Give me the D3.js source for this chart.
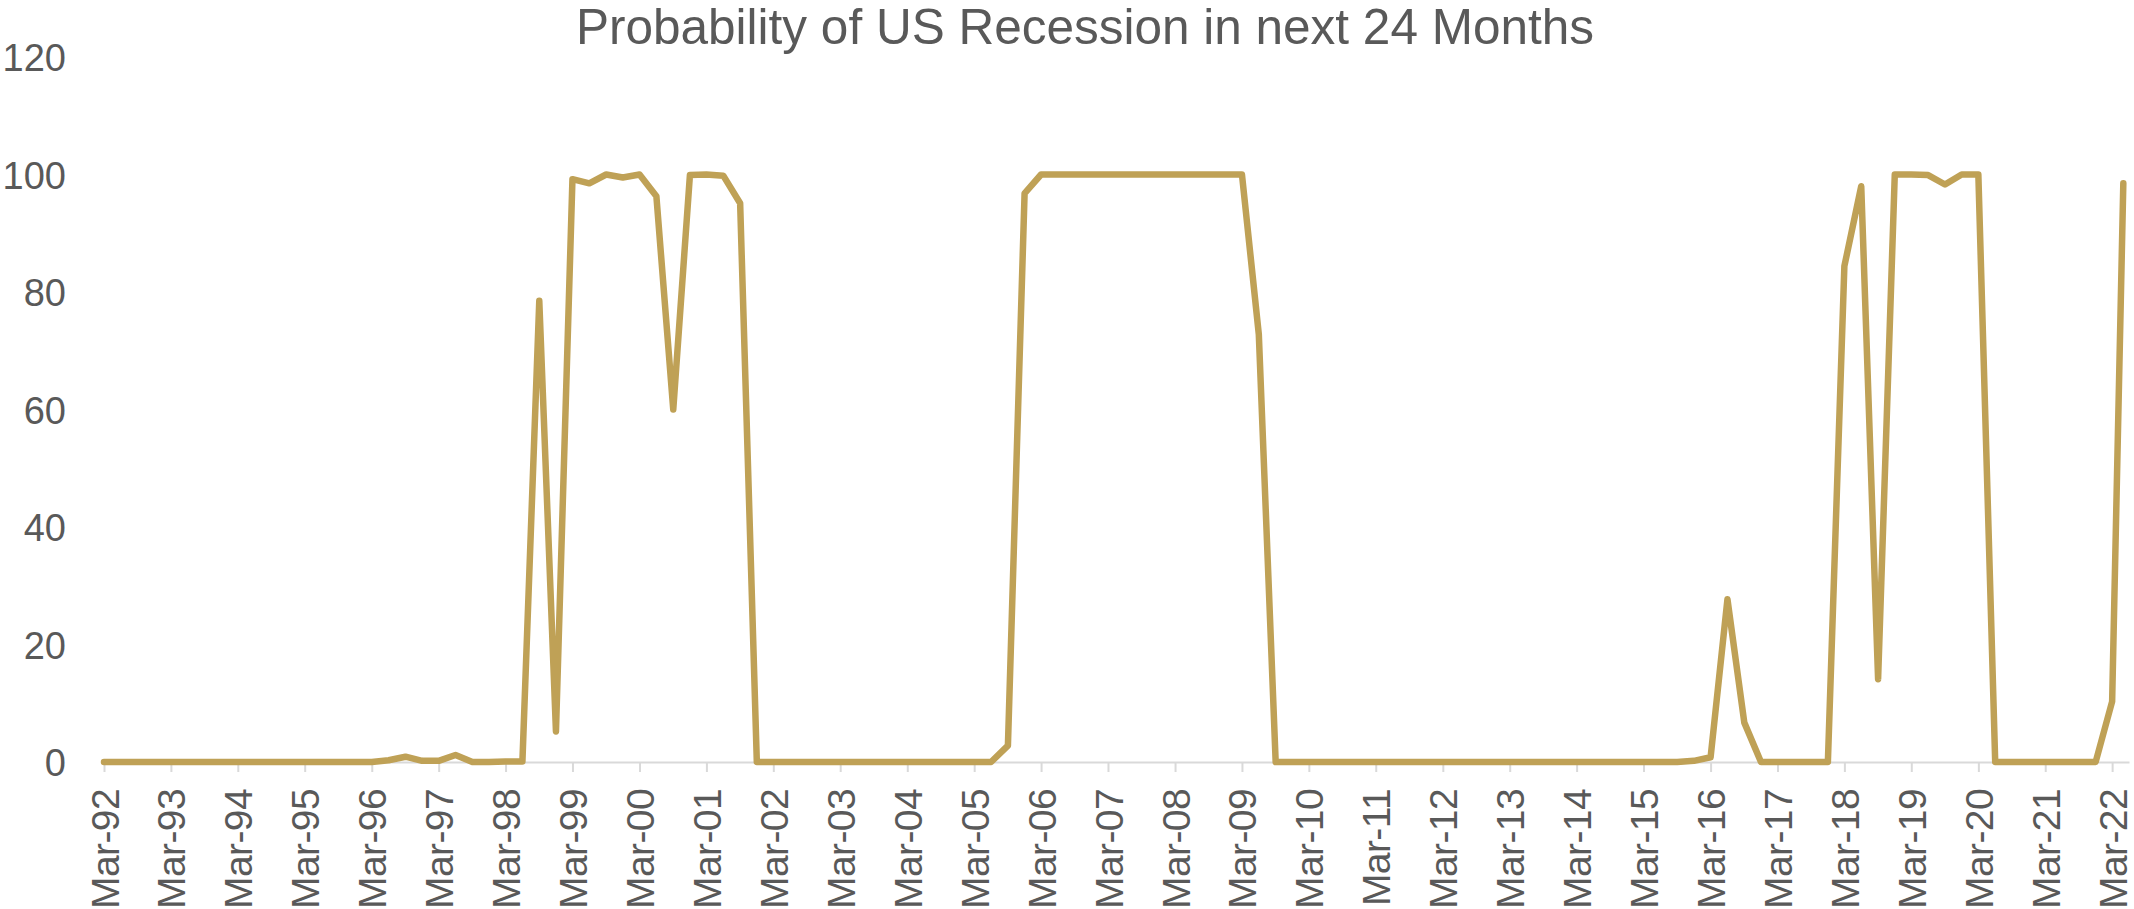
<!DOCTYPE html>
<html>
<head>
<meta charset="utf-8">
<script src="https://cdn.jsdelivr.net/npm/d3@7"></script>
<style>
  body { margin: 0; background: #fff; }
  svg { display: block; }
  text { font-family: "Liberation Sans", Arial, sans-serif; fill: #595959; }
</style>
</head>
<body>
<svg id="chart" width="2134" height="909"></svg>
<script>
//// data: quarterly readings, last one is May-22
const periods = [
  "Mar-92","Jun-92","Sep-92","Dec-92", "Mar-93","Jun-93","Sep-93","Dec-93",
  "Mar-94","Jun-94","Sep-94","Dec-94", "Mar-95","Jun-95","Sep-95","Dec-95",
  "Mar-96","Jun-96","Sep-96","Dec-96", "Mar-97","Jun-97","Sep-97","Dec-97",
  "Mar-98","Jun-98","Sep-98","Dec-98", "Mar-99","Jun-99","Sep-99","Dec-99",
  "Mar-00","Jun-00","Sep-00","Dec-00", "Mar-01","Jun-01","Sep-01","Dec-01",
  "Mar-02","Jun-02","Sep-02","Dec-02", "Mar-03","Jun-03","Sep-03","Dec-03",
  "Mar-04","Jun-04","Sep-04","Dec-04", "Mar-05","Jun-05","Sep-05","Dec-05",
  "Mar-06","Jun-06","Sep-06","Dec-06", "Mar-07","Jun-07","Sep-07","Dec-07",
  "Mar-08","Jun-08","Sep-08","Dec-08", "Mar-09","Jun-09","Sep-09","Dec-09",
  "Mar-10","Jun-10","Sep-10","Dec-10", "Mar-11","Jun-11","Sep-11","Dec-11",
  "Mar-12","Jun-12","Sep-12","Dec-12", "Mar-13","Jun-13","Sep-13","Dec-13",
  "Mar-14","Jun-14","Sep-14","Dec-14", "Mar-15","Jun-15","Sep-15","Dec-15",
  "Mar-16","Jun-16","Sep-16","Dec-16", "Mar-17","Jun-17","Sep-17","Dec-17",
  "Mar-18","Jun-18","Sep-18","Dec-18", "Mar-19","Jun-19","Sep-19","Dec-19",
  "Mar-20","Jun-20","Sep-20","Dec-20", "Mar-21","Jun-21","Sep-21","Dec-21",
  "Mar-22","May-22"
];

const probability = [
  0, 0, 0, 0,          0, 0, 0, 0,
  0, 0, 0, 0,          0, 0, 0, 0,
  0, 0.3, 0.9, 0.2,    0.2, 1.2, 0, 0,
  0.1, 0.1, 78.5, 5.2, 99.2, 98.5, 100, 99.5,
  100, 96.3, 60, 99.9, 100, 99.8, 95.1, 0,
  0, 0, 0, 0,          0, 0, 0, 0,
  0, 0, 0, 0,          0, 0, 2.8, 96.8,
  100, 100, 100, 100,  100, 100, 100, 100,
  100, 100, 100, 100,  100, 72.8, 0, 0,
  0, 0, 0, 0,          0, 0, 0, 0,
  0, 0, 0, 0,          0, 0, 0, 0,
  0, 0, 0, 0,          0, 0, 0, 0.2,
  0.8, 27.7, 6.7, 0,   0, 0, 0, 0,
  84.4, 98, 14.1, 100, 100, 99.9, 98.3, 100,
  100, 0, 0, 0,        0, 0, 0, 0,
  10.3, 98.5
];

const yTicks = [0, 20, 40, 60, 80, 100, 120];
const xTickLabels = ["Mar-92","Mar-93","Mar-94","Mar-95","Mar-96","Mar-97","Mar-98","Mar-99","Mar-00","Mar-01",
  "Mar-02","Mar-03","Mar-04","Mar-05","Mar-06","Mar-07","Mar-08","Mar-09","Mar-10","Mar-11",
  "Mar-12","Mar-13","Mar-14","Mar-15","Mar-16","Mar-17","Mar-18","Mar-19","Mar-20","Mar-21","Mar-22"];
const axisEnd = "Jun-22";
const title = "Probability of US Recession in next 24 Months";

const parse = d3.timeParse("%b-%y");
const fmt = d3.timeFormat("%b-%y");

const data = periods.map((p, i) => ({ date: parse(p), value: probability[i] }));

const svg = d3.select("#chart");
const plotLeft = 104, plotRight = 2129, plotTop = 57, plotBase = 762;

const x = d3.scaleTime()
  .domain([parse(periods[0]), parse(axisEnd)])
  .range([plotLeft, plotRight]);

const y = d3.scaleLinear()
  .domain([0, 120])
  .range([plotBase, plotTop]);

//// x axis
const xAxis = svg.append("g")
  .attr("transform", `translate(0,${plotBase})`)
  .call(d3.axisBottom(x)
    .tickValues(xTickLabels.map(parse))
    .tickFormat(fmt)
    .tickSize(10)
    .tickSizeOuter(0));

xAxis.select(".domain").attr("stroke", "#d9d9d9").attr("stroke-width", 2);
xAxis.selectAll(".tick line").attr("stroke", "#d9d9d9").attr("stroke-width", 2);
xAxis.selectAll(".tick text")
  .attr("transform", "rotate(-90)")
  .attr("text-anchor", "end")
  .attr("x", -27)
  .attr("y", 0)
  .attr("dy", "0.36em")
  .style("font-size", "39px")
  .style("letter-spacing", "-0.6px")
  .style("fill", "#595959");

//// y axis (labels only)
const yAxis = svg.append("g")
  .attr("transform", "translate(66,0)")
  .call(d3.axisLeft(y).tickValues(yTicks).tickSize(0).tickPadding(0));

yAxis.select(".domain").remove();
yAxis.selectAll(".tick text")
  .attr("dy", "0.36em")
  .style("font-size", "38px")
  .style("fill", "#595959");

//// line
const line = d3.line()
  .x(d => x(d.date))
  .y(d => y(d.value));

svg.append("path")
  .datum(data)
  .attr("fill", "none")
  .attr("stroke", "#bfa156")
  .attr("stroke-width", 6.5)
  .attr("stroke-linejoin", "round")
  .attr("stroke-linecap", "round")
  .attr("d", line);

//// title
svg.append("text")
  .attr("x", 1085)
  .attr("y", 44)
  .attr("text-anchor", "middle")
  .style("font-size", "49.5px")
  .text(title);
</script>
</body>
</html>
